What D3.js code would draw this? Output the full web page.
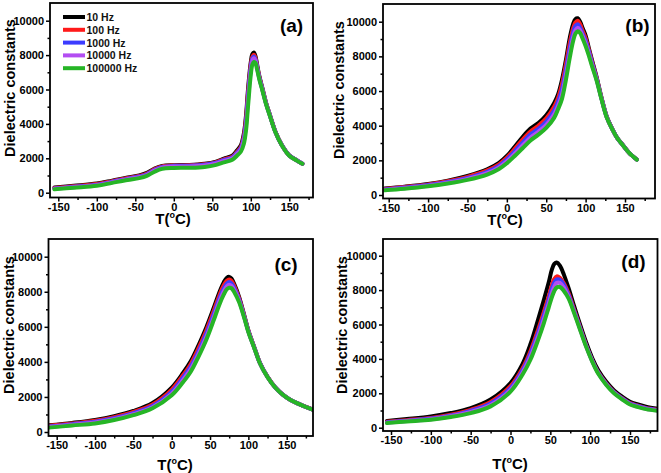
<!DOCTYPE html>
<html><head><meta charset="utf-8">
<script src="https://cdn.jsdelivr.net/npm/d3@7"></script>
<style>body{margin:0;background:#fff}svg{display:block}</style>
</head><body>
<svg id="chart" width="661" height="473"></svg>
<script>
// ---------- data ----------
const frequencies = ["10 Hz", "100 Hz", "1000 Hz", "10000 Hz", "100000 Hz"];
const panelLabels = ["(a)", "(b)", "(c)", "(d)"];
const xMajorTicks = [-150, -100, -50, 0, 50, 100, 150];
const xMinorTicks = [-125, -75, -25, 25, 75, 125, 175];
const yMajorTicks = [0, 2000, 4000, 6000, 8000, 10000];
const yMinorTicks = [1000, 3000, 5000, 7000, 9000];

// panel (a)
const tempA = [-155,-130,-100,-80,-60,-45,-35,-25,-15,0,20,40,55,65,76,82,87,91,94,96,98,100,102,104,106,108,111,115,120,125,132,140,150,160,167];
const a10     = [300,400,530,700,880,1000,1150,1400,1560,1600,1610,1680,1810,1980,2150,2450,2750,3450,4600,5800,6800,7600,8050,8150,7950,7500,6800,6100,5200,4500,3550,2800,2170,1880,1690];
const a100    = [270,370,500,670,850,970,1110,1370,1530,1580,1590,1650,1780,1940,2100,2380,2650,3300,4400,5600,6600,7450,7900,8020,7850,7400,6750,6050,5180,4480,3540,2790,2165,1875,1688];
const a1000   = [250,345,470,640,820,940,1070,1330,1490,1560,1565,1620,1740,1900,2050,2320,2580,3180,4200,5400,6450,7300,7800,7920,7780,7350,6700,6020,5160,4470,3530,2785,2160,1870,1686];
const a10000  = [230,320,440,610,790,900,1030,1280,1450,1520,1525,1580,1700,1850,2000,2260,2500,3050,4000,5150,6250,7150,7680,7820,7700,7300,6650,6000,5150,4460,3520,2780,2155,1868,1684];
const a100000 = [200,290,400,570,740,850,980,1220,1390,1440,1450,1500,1620,1760,1920,2150,2380,2850,3700,4800,5900,6850,7450,7600,7550,7200,6600,5950,5120,4440,3510,2775,2150,1865,1680];

// panel (b)
const tempB = [-155,-130,-100,-75,-50,-25,-10,0,10,20,30,40,50,60,65,70,75,80,84,87,90,93,96,100,104,108,114,120,127,134,140,147,155,165];
const b10     = [370,480,640,830,1100,1480,1850,2250,2780,3350,3830,4150,4600,5300,5800,6650,7800,9100,9850,10150,10200,10000,9650,9200,8500,7800,6800,5650,4500,3800,3300,2900,2450,2050];
const b100    = [350,460,610,790,1050,1420,1770,2150,2660,3200,3670,4000,4420,5100,5600,6400,7550,8800,9600,9950,10050,9850,9500,9050,8400,7720,6750,5620,4490,3795,3298,2898,2448,2048];
const b1000   = [320,430,580,750,990,1340,1680,2050,2520,3030,3500,3820,4240,4880,5380,6100,7250,8500,9350,9750,9850,9650,9330,8900,8300,7650,6700,5600,4480,3790,3295,2895,2445,2045];
const b10000  = [295,395,540,705,930,1260,1590,1940,2380,2860,3320,3650,4050,4660,5150,5800,6950,8200,9100,9500,9650,9500,9200,8750,8180,7550,6650,5580,4465,3785,3292,2892,2442,2042];
const b100000 = [270,360,500,660,870,1180,1500,1830,2250,2700,3150,3480,3870,4450,4950,5550,6650,7950,8850,9300,9450,9350,9050,8600,8050,7450,6600,5550,4450,3780,3290,2890,2440,2040];

// panel (c)
const tempC = [-160,-130,-100,-75,-50,-25,0,15,25,35,45,55,62,68,72,75,78,82,88,95,100,108,115,125,135,145,155,165,175,185];
const c10     = [380,520,690,900,1200,1650,2530,3380,4050,4950,5950,7100,7950,8550,8800,8850,8750,8400,7700,6600,5800,4800,3950,3150,2550,2130,1830,1620,1430,1260];
const c100    = [350,480,640,850,1140,1570,2420,3250,3900,4780,5780,6930,7780,8380,8630,8700,8620,8300,7620,6560,5780,4790,3945,3145,2548,2128,1828,1618,1428,1258];
const c1000   = [315,445,590,790,1080,1480,2300,3120,3750,4600,5600,6750,7600,8200,8480,8550,8480,8180,7550,6520,5760,4780,3940,3140,2545,2127,1827,1617,1427,1257];
const c10000  = [285,405,540,735,1020,1410,2190,2980,3600,4450,5420,6570,7430,8030,8320,8400,8340,8070,7480,6490,5730,4765,3930,3135,2542,2126,1826,1616,1426,1256];
const c100000 = [250,370,490,680,960,1350,2090,2850,3450,4300,5250,6400,7250,7850,8150,8230,8200,7950,7400,6450,5700,4750,3920,3130,2540,2125,1825,1615,1425,1255];

// panel (d)
const tempD = [-155,-130,-100,-75,-50,-25,0,15,25,35,42,48,52,55,58,62,67,73,80,88,95,103,110,120,130,140,150,160,170,185];
const d10     = [390,500,650,850,1140,1640,2600,3700,4850,6350,7450,8450,9200,9520,9600,9420,8900,8100,7050,5900,4950,4000,3350,2680,2170,1810,1510,1350,1220,1100];
const d100    = [340,440,570,760,1040,1500,2420,3450,4450,5750,6750,7650,8300,8650,8800,8720,8400,7800,6850,5750,4800,3880,3230,2580,2080,1730,1430,1280,1150,1040];
const d1000   = [320,410,530,710,980,1410,2300,3320,4300,5550,6550,7450,8100,8450,8620,8600,8300,7700,6780,5700,4770,3860,3210,2560,2060,1710,1410,1260,1130,1020];
const d10000  = [295,385,495,665,915,1320,2200,3200,4130,5350,6330,7220,7850,8200,8420,8420,8150,7600,6720,5650,4740,3830,3180,2530,2030,1680,1380,1230,1105,1000];
const d100000 = [270,360,460,620,850,1240,2100,3080,3950,5150,6100,7000,7600,7950,8150,8180,7950,7500,6650,5600,4700,3800,3150,2500,2000,1650,1350,1200,1080,980];

// ---------- styling / layout ----------
const colors = ["#000000", "#ff1a1a", "#3c3cff", "#b34df2", "#26b526"];
const FONT = "'Liberation Sans', Arial, Helvetica, sans-serif";

const panels = [
  { temps: tempA, series: [a10,a100,a1000,a10000,a100000], label: panelLabels[0],
    frame: [50, 3, 313, 197.5], xr: [58.3, 289.3], yr: [192.7, 20.7],
    ytitle: [10, 88], xtitle: [173, 218], plabel: [291.5, 32], legend: true },
  { temps: tempB, series: [b10,b100,b1000,b10000,b100000], label: panelLabels[1],
    frame: [383, 4, 655, 198.5], xr: [388.7, 625], yr: [195, 21.7],
    ytitle: [338.5, 90], xtitle: [505, 219], plabel: [637.5, 32] },
  { temps: tempC, series: [c10,c100,c1000,c10000,c100000], label: panelLabels[2],
    frame: [48.5, 239, 313, 436], xr: [56.7, 286.7], yr: [432, 256.7],
    ytitle: [8.5, 325], xtitle: [175, 464], plabel: [286, 271] },
  { temps: tempD, series: [d10,d100,d1000,d10000,d100000], label: panelLabels[3],
    frame: [383, 239, 657.5, 431], xr: [391, 630], yr: [427.7, 255.7],
    ytitle: [341.5, 325], xtitle: [510, 463.5], plabel: [633.5, 268] }
];

const svg = d3.select("#chart");
const defs = svg.append("defs");

panels.forEach((p, i) => {
  const [fx0, fy0, fx1, fy1] = p.frame;
  const x = d3.scaleLinear().domain([-150, 150]).range(p.xr);
  const y = d3.scaleLinear().domain([0, 10000]).range(p.yr);
  const g = svg.append("g");

  defs.append("clipPath").attr("id", "clip" + i)
    .append("rect").attr("x", fx0).attr("y", fy0).attr("width", fx1 - fx0).attr("height", fy1 - fy0);

  const inX = v => x(v) >= fx0 - 0.5 && x(v) <= fx1 + 0.5;
  const inY = v => y(v) <= fy1 + 0.5 && y(v) >= fy0 - 0.5;
  const fmt = d => String(d);

  const xa = g.append("g").attr("transform", `translate(0,${fy1})`)
    .call(d3.axisBottom(x).tickValues(xMajorTicks.filter(inX)).tickSize(4).tickPadding(1.5).tickFormat(fmt));
  const xm = g.append("g").attr("transform", `translate(0,${fy1})`)
    .call(d3.axisBottom(x).tickValues(xMinorTicks.filter(inX)).tickSize(2.5).tickFormat(""));
  const ya = g.append("g").attr("transform", `translate(${fx0},0)`)
    .call(d3.axisLeft(y).tickValues(yMajorTicks.filter(inY)).tickSize(4).tickPadding(2).tickFormat(fmt));
  const ym = g.append("g").attr("transform", `translate(${fx0},0)`)
    .call(d3.axisLeft(y).tickValues(yMinorTicks.filter(inY)).tickSize(2.5).tickFormat(""));
  [xa, xm, ya, ym].forEach(a => {
    a.select(".domain").remove();
    a.selectAll("line").attr("stroke", "#000").attr("stroke-width", 1.5);
    a.selectAll("text").attr("fill", "#000").style("font-family", FONT)
      .style("font-size", "11px").style("font-weight", "bold");
  });

  const line = d3.line().curve(d3.curveCatmullRom.alpha(0.5))
    .x((d, k) => x(p.temps[k])).y(d => y(d));
  const lg = g.append("g").attr("clip-path", `url(#clip${i})`);
  p.series.forEach((s, k) => {
    lg.append("path").datum(s).attr("d", line)
      .attr("fill", "none").attr("stroke", colors[k])
      .attr("stroke-width", 4).attr("stroke-linejoin", "round").attr("stroke-linecap", "round");
  });

  g.append("rect").attr("x", fx0).attr("y", fy0).attr("width", fx1 - fx0).attr("height", fy1 - fy0)
    .attr("fill", "none").attr("stroke", "#000").attr("stroke-width", 1.8);

  g.append("text").attr("transform", `translate(${p.ytitle[0]},${p.ytitle[1]}) rotate(-90)`)
    .attr("text-anchor", "middle").attr("dominant-baseline", "central")
    .style("font-family", FONT).style("font-size", "14.5px").style("font-weight", "bold")
    .text("Dielectric constants");
  const xt = g.append("text").attr("x", p.xtitle[0]).attr("y", p.xtitle[1] + 5.5)
    .attr("text-anchor", "middle")
    .style("font-family", FONT).style("font-size", "15px").style("font-weight", "bold");
  xt.append("tspan").text("T(");
  xt.append("tspan").attr("dy", -6).style("font-size", "9px").text("o");
  xt.append("tspan").attr("dy", 6).text("C)");

  g.append("text").attr("x", p.plabel[0]).attr("y", p.plabel[1]).attr("text-anchor", "middle")
    .style("font-family", FONT).style("font-size", "19px").style("font-weight", "bold")
    .text(p.label);

  if (p.legend) {
    const leg = g.append("g");
    frequencies.forEach((f, k) => {
      const yy = 17 + k * 12.8;
      leg.append("line").attr("x1", 63).attr("x2", 85).attr("y1", yy).attr("y2", yy)
        .attr("stroke", colors[k]).attr("stroke-width", 4);
      leg.append("text").attr("x", 86.5).attr("y", yy).attr("dominant-baseline", "central")
        .style("font-family", FONT).style("font-size", "10.5px").style("font-weight", "bold")
        .attr("fill", "#111").text(f);
    });
  }
});
</script>
</body></html>
